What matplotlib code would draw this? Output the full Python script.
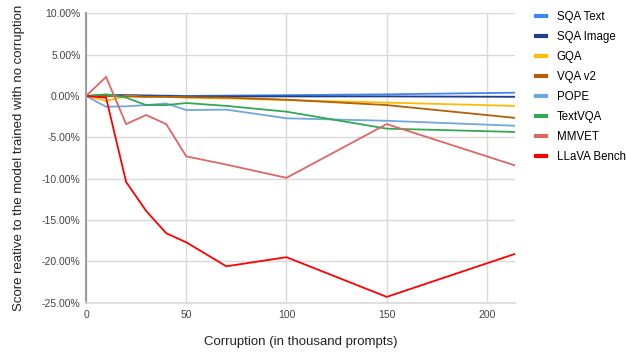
import matplotlib
matplotlib.use("Agg")
import matplotlib.pyplot as plt
from matplotlib.ticker import FuncFormatter

plt.rcParams['font.family'] = ['Liberation Sans', 'DejaVu Sans']

corruption = [0, 10, 20, 30, 40, 50, 70, 100, 150, 214]
sqa_text = [0.0, 0.0, 0.05, 0.05, 0.05, 0.0, 0.05, 0.1, 0.2, 0.4]
sqa_image = [0.0, 0.1, 0.1, 0.05, 0.0, -0.05, -0.05, -0.05, -0.05, -0.1]
gqa = [0.0, -0.6, 0.0, -0.1, -0.1, -0.2, -0.3, -0.5, -0.8, -1.2]
vqa_v2 = [0.0, 0.0, -0.05, -0.1, -0.1, -0.15, -0.2, -0.45, -1.1, -2.65]
pope = [0.0, -1.3, -1.25, -1.1, -0.9, -1.7, -1.65, -2.7, -3.0, -3.6]
textvqa = [0.0, 0.2, -0.2, -1.1, -1.1, -0.85, -1.2, -1.9, -3.95, -4.35]
mmvet = [0.0, 2.3, -3.4, -2.3, -3.4, -7.3, -8.3, -9.9, -3.4, -8.4]
llava_bench = [0.0, -0.2, -10.4, -13.9, -16.6, -17.7, -20.6, -19.5, -24.3, -19.1]

series_names = ["SQA Text", "SQA Image", "GQA", "VQA v2", "POPE", "TextVQA", "MMVET", "LLaVA Bench"]
series_values = [sqa_text, sqa_image, gqa, vqa_v2, pope, textvqa, mmvet, llava_bench]
colors = ["#4285F4", "#1F3F8C", "#FBBC04", "#B45F06", "#6FA8DC", "#34A853", "#E06666", "#FF0000"]

x_ticks = [0, 50, 100, 150, 200]
y_ticks = [10, 5, 0, -5, -10, -15, -20, -25]

fig = plt.figure(figsize=(6.26, 3.54), dpi=100)
ax = fig.add_axes([0.1374, 0.145, 0.6853, 0.8174])

for name, vals, c in zip(series_names, series_values, colors):
    ax.plot(corruption, vals, color=c, lw=1.3, label=name, solid_joinstyle='miter')

ax.set_xlim(0, 214)
ax.set_ylim(-25, 10)
ax.set_xticks(x_ticks)
ax.set_yticks(y_ticks)
ax.yaxis.set_major_formatter(FuncFormatter(lambda v, p: f"{v:.2f}%"))
ax.grid(True, color="#D9D9D9", lw=1)
ax.set_axisbelow(True)
for s in ["top", "right"]:
    ax.spines[s].set_visible(False)
ax.spines["left"].set_color("#9E9E9E")
ax.spines["left"].set_linewidth(1.5)
ax.spines["bottom"].set_color("#D9D9D9")
ax.spines["bottom"].set_linewidth(1.2)
ax.tick_params(length=0, labelsize=7.5, colors="#444444", pad=4)
ax.tick_params(axis='x', pad=5)

ax.set_xlabel("Corruption (in thousand prompts)", fontsize=9.5, color="#222222", labelpad=12)
ax.set_ylabel("Score reative to the model trained with no corruption", fontsize=9.5, color="#222222", labelpad=12)

leg = ax.legend(loc="upper left", bbox_to_anchor=(1.025, 1.045), frameon=False, fontsize=8.3,
                handlelength=0.9, handletextpad=0.9, labelspacing=0.7)
for line in leg.get_lines():
    line.set_linewidth(3)

fig.savefig("out.png", dpi=100)
